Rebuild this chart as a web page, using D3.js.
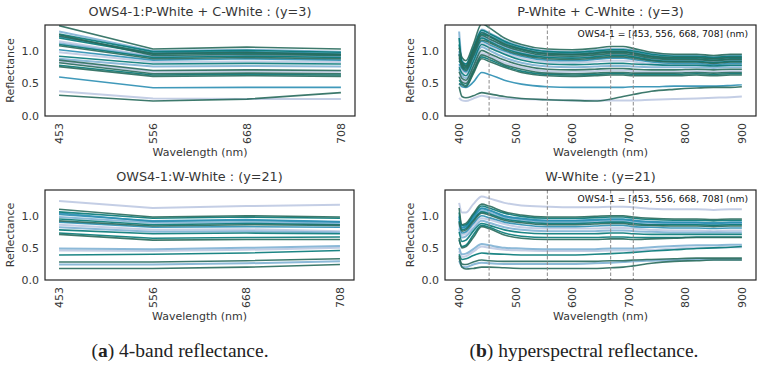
<!DOCTYPE html>
<html>
<head>
<meta charset="utf-8">
<script src="https://cdn.jsdelivr.net/npm/d3@7"></script>
<style>
  body { margin: 0; background: #fff; }
  text { font-family: "DejaVu Sans", sans-serif; fill: #363636; }
  .caption { font-family: "Liberation Serif", serif; fill: #222; }
</style>
</head>
<body>
<svg id="fig" width="761" height="366"></svg>
<script>
// ---- data ----
var bands = [453, 556, 668, 708];
var wavelengths = [400, 405, 412, 425, 440, 453, 480, 510, 556, 600, 640, 668, 690, 708, 740, 780, 820, 850, 880, 900];
var yTicks = [0.0, 0.5, 1.0];
var xTicksHyper = [400, 500, 600, 700, 800, 900];

// shade of each sample (0.3 = light lavender ... 0.95 = dark green)
var shadeY3 = [0.95, 0.45, 0.65, 0.8, 0.95, 0.3, 0.8, 0.95, 0.65, 0.3, 0.8, 0.45, 0.95, 0.3, 0.95, 0.8, 0.95, 0.65, 0.3, 0.95, 0.8, 0.95, 0.45];
var shadeY21 = [0.3, 0.95, 0.8, 0.65, 0.45, 0.8, 0.95, 0.65, 0.3, 0.45, 0.8, 0.95, 0.8, 0.45, 0.3, 0.8, 0.95, 0.45, 0.95, 0.65];

// 4-band reflectance, P-White + C-White (y=3)
var bandY3 = [
  [1.39, 1.03, 1.06, 1.03], [1.30, 1.00, 1.02, 0.99], [1.22, 0.97, 0.99, 0.96], [1.20, 0.95, 0.97, 0.94],
  [1.25, 0.93, 0.95, 0.93], [1.15, 0.92, 0.94, 0.92], [1.10, 0.90, 0.92, 0.90], [1.08, 0.88, 0.90, 0.88],
  [1.02, 0.86, 0.88, 0.86], [0.98, 0.83, 0.84, 0.83], [0.92, 0.80, 0.81, 0.80], [0.88, 0.76, 0.77, 0.76],
  [0.86, 0.70, 0.71, 0.70], [0.84, 0.68, 0.69, 0.68], [0.82, 0.65, 0.66, 0.65], [0.78, 0.63, 0.64, 0.63],
  [0.76, 0.61, 0.62, 0.61], [0.60, 0.435, 0.44, 0.44], [0.38, 0.27, 0.26, 0.26], [0.32, 0.23, 0.26, 0.36],
  [1.26, 0.99, 1.01, 0.98], [1.23, 0.96, 0.98, 0.95], [1.12, 0.91, 0.93, 0.91]
];

// 4-band reflectance, W-White (y=21)
var bandY21 = [
  [1.23, 1.12, 1.15, 1.17], [1.10, 0.98, 1.00, 0.98], [1.06, 0.96, 0.98, 0.96], [1.02, 0.92, 0.94, 0.91],
  [0.98, 0.89, 0.90, 0.88], [0.95, 0.86, 0.88, 0.86], [0.92, 0.84, 0.86, 0.85], [0.90, 0.82, 0.83, 0.82],
  [0.86, 0.78, 0.79, 0.76], [0.82, 0.75, 0.76, 0.74], [0.78, 0.72, 0.73, 0.72], [0.71, 0.62, 0.63, 0.63],
  [0.73, 0.65, 0.66, 0.67], [0.49, 0.48, 0.50, 0.53], [0.46, 0.45, 0.47, 0.50], [0.39, 0.40, 0.42, 0.46],
  [0.28, 0.28, 0.30, 0.33], [0.24, 0.24, 0.26, 0.29], [0.18, 0.18, 0.20, 0.24], [1.04, 0.91, 0.93, 0.90]
];

// hyperspectral reflectance at `wavelengths`, P-White + C-White (y=3)
var hyperY3 = [
  [1.05, 0.90, 0.85, 1.10, 1.42, 1.36, 1.20, 1.10, 1.03, 1.02, 1.04, 1.07, 1.07, 1.04, 0.98, 0.95, 0.95, 0.93, 0.95, 0.95],
  [1.30, 0.85, 0.80, 1.05, 1.33, 1.28, 1.16, 1.07, 1.00, 0.99, 1.01, 1.03, 1.03, 1.01, 0.96, 0.93, 0.93, 0.91, 0.93, 0.93],
  [0.95, 0.82, 0.78, 1.02, 1.29, 1.24, 1.13, 1.04, 0.97, 0.96, 0.98, 1.00, 1.00, 0.98, 0.93, 0.90, 0.90, 0.88, 0.90, 0.90],
  [1.20, 0.81, 0.76, 1.00, 1.26, 1.22, 1.10, 1.02, 0.95, 0.94, 0.96, 0.98, 0.98, 0.96, 0.91, 0.88, 0.88, 0.86, 0.88, 0.88],
  [0.90, 0.79, 0.74, 0.98, 1.24, 1.19, 1.08, 1.00, 0.93, 0.92, 0.94, 0.96, 0.96, 0.94, 0.89, 0.87, 0.87, 0.85, 0.87, 0.87],
  [0.88, 0.78, 0.74, 0.97, 1.22, 1.18, 1.07, 0.98, 0.92, 0.91, 0.93, 0.95, 0.95, 0.93, 0.88, 0.86, 0.86, 0.84, 0.86, 0.86],
  [0.85, 0.77, 0.72, 0.95, 1.20, 1.15, 1.04, 0.96, 0.90, 0.89, 0.91, 0.93, 0.93, 0.91, 0.86, 0.84, 0.84, 0.82, 0.84, 0.84],
  [0.95, 0.75, 0.70, 0.92, 1.17, 1.13, 1.02, 0.94, 0.88, 0.87, 0.89, 0.91, 0.91, 0.89, 0.85, 0.83, 0.83, 0.81, 0.83, 0.83],
  [0.80, 0.73, 0.68, 0.90, 1.15, 1.10, 1.00, 0.92, 0.86, 0.85, 0.87, 0.89, 0.89, 0.87, 0.83, 0.81, 0.81, 0.79, 0.81, 0.81],
  [0.78, 0.70, 0.66, 0.87, 1.12, 1.07, 0.97, 0.89, 0.83, 0.82, 0.84, 0.85, 0.85, 0.84, 0.80, 0.79, 0.79, 0.77, 0.79, 0.79],
  [0.75, 0.66, 0.62, 0.84, 1.10, 1.05, 0.95, 0.86, 0.80, 0.79, 0.80, 0.81, 0.81, 0.80, 0.79, 0.78, 0.78, 0.77, 0.78, 0.78],
  [0.72, 0.62, 0.58, 0.80, 1.06, 1.01, 0.90, 0.82, 0.76, 0.75, 0.76, 0.77, 0.77, 0.76, 0.75, 0.75, 0.75, 0.74, 0.75, 0.75],
  [0.68, 0.58, 0.55, 0.76, 1.01, 0.96, 0.86, 0.78, 0.72, 0.71, 0.72, 0.73, 0.73, 0.72, 0.71, 0.71, 0.72, 0.71, 0.72, 0.72],
  [0.62, 0.55, 0.52, 0.72, 0.97, 0.93, 0.82, 0.75, 0.69, 0.68, 0.69, 0.70, 0.70, 0.69, 0.68, 0.68, 0.69, 0.68, 0.69, 0.69],
  [0.60, 0.52, 0.50, 0.70, 0.94, 0.90, 0.79, 0.72, 0.66, 0.65, 0.66, 0.67, 0.67, 0.66, 0.66, 0.66, 0.67, 0.66, 0.67, 0.67],
  [0.55, 0.50, 0.47, 0.67, 0.91, 0.87, 0.77, 0.69, 0.64, 0.63, 0.64, 0.65, 0.65, 0.64, 0.64, 0.64, 0.65, 0.64, 0.65, 0.65],
  [0.50, 0.48, 0.45, 0.65, 0.88, 0.84, 0.75, 0.67, 0.62, 0.61, 0.62, 0.63, 0.63, 0.62, 0.62, 0.62, 0.63, 0.62, 0.63, 0.63],
  [0.50, 0.45, 0.44, 0.52, 0.67, 0.64, 0.55, 0.49, 0.45, 0.44, 0.44, 0.44, 0.44, 0.45, 0.45, 0.46, 0.46, 0.46, 0.47, 0.48],
  [0.28, 0.24, 0.23, 0.27, 0.31, 0.29, 0.27, 0.26, 0.25, 0.24, 0.24, 0.24, 0.24, 0.24, 0.25, 0.26, 0.27, 0.28, 0.29, 0.30],
  [0.45, 0.30, 0.28, 0.31, 0.36, 0.34, 0.30, 0.27, 0.25, 0.24, 0.23, 0.26, 0.30, 0.33, 0.38, 0.41, 0.43, 0.44, 0.44, 0.45],
  [1.10, 0.84, 0.80, 1.04, 1.32, 1.27, 1.15, 1.06, 0.99, 0.98, 1.00, 1.02, 1.02, 1.00, 0.95, 0.92, 0.92, 0.90, 0.92, 0.92],
  [0.85, 0.82, 0.77, 1.01, 1.28, 1.23, 1.11, 1.03, 0.96, 0.95, 0.97, 0.99, 0.99, 0.97, 0.92, 0.90, 0.90, 0.88, 0.90, 0.90],
  [1.00, 0.77, 0.73, 0.96, 1.21, 1.17, 1.06, 0.97, 0.91, 0.90, 0.92, 0.94, 0.94, 0.92, 0.87, 0.85, 0.85, 0.83, 0.85, 0.85]
];

// hyperspectral reflectance at `wavelengths`, W-White (y=21)
var hyperY21 = [
  [1.20, 1.05, 1.05, 1.18, 1.30, 1.27, 1.20, 1.16, 1.14, 1.13, 1.13, 1.14, 1.14, 1.13, 1.11, 1.10, 1.10, 1.09, 1.10, 1.10],
  [1.12, 0.86, 0.88, 1.03, 1.18, 1.15, 1.06, 1.01, 0.98, 0.98, 0.99, 1.00, 1.00, 0.98, 0.96, 0.95, 0.95, 0.94, 0.95, 0.95],
  [1.05, 0.85, 0.86, 1.01, 1.15, 1.12, 1.04, 0.99, 0.96, 0.96, 0.97, 0.98, 0.98, 0.96, 0.94, 0.93, 0.93, 0.92, 0.93, 0.93],
  [0.98, 0.82, 0.84, 0.98, 1.12, 1.09, 1.00, 0.96, 0.93, 0.93, 0.94, 0.95, 0.95, 0.93, 0.91, 0.90, 0.90, 0.89, 0.90, 0.90],
  [0.95, 0.80, 0.82, 0.95, 1.08, 1.05, 0.97, 0.93, 0.90, 0.90, 0.91, 0.92, 0.92, 0.90, 0.88, 0.87, 0.87, 0.86, 0.87, 0.87],
  [0.92, 0.78, 0.80, 0.93, 1.06, 1.03, 0.95, 0.91, 0.88, 0.88, 0.89, 0.90, 0.90, 0.88, 0.86, 0.86, 0.86, 0.85, 0.86, 0.86],
  [0.90, 0.76, 0.78, 0.91, 1.04, 1.01, 0.93, 0.89, 0.86, 0.86, 0.87, 0.88, 0.88, 0.86, 0.85, 0.84, 0.84, 0.83, 0.84, 0.84],
  [0.88, 0.73, 0.75, 0.88, 1.00, 0.97, 0.90, 0.86, 0.83, 0.83, 0.84, 0.85, 0.85, 0.83, 0.82, 0.81, 0.81, 0.80, 0.81, 0.81],
  [0.85, 0.70, 0.72, 0.85, 0.96, 0.94, 0.87, 0.82, 0.80, 0.80, 0.80, 0.81, 0.81, 0.80, 0.78, 0.77, 0.77, 0.76, 0.77, 0.77],
  [0.80, 0.66, 0.68, 0.80, 0.92, 0.89, 0.82, 0.78, 0.76, 0.76, 0.76, 0.77, 0.77, 0.76, 0.75, 0.74, 0.74, 0.74, 0.74, 0.74],
  [0.75, 0.60, 0.62, 0.76, 0.88, 0.85, 0.78, 0.74, 0.72, 0.72, 0.72, 0.73, 0.73, 0.72, 0.71, 0.71, 0.71, 0.71, 0.71, 0.71],
  [0.65, 0.50, 0.52, 0.66, 0.83, 0.80, 0.70, 0.65, 0.63, 0.63, 0.63, 0.64, 0.64, 0.63, 0.64, 0.65, 0.66, 0.66, 0.66, 0.66],
  [0.62, 0.52, 0.54, 0.70, 0.85, 0.82, 0.73, 0.68, 0.66, 0.66, 0.66, 0.67, 0.67, 0.66, 0.66, 0.66, 0.67, 0.67, 0.67, 0.67],
  [0.50, 0.40, 0.41, 0.48, 0.56, 0.54, 0.50, 0.49, 0.48, 0.48, 0.48, 0.49, 0.49, 0.49, 0.51, 0.53, 0.54, 0.54, 0.55, 0.55],
  [0.45, 0.36, 0.37, 0.44, 0.52, 0.50, 0.47, 0.46, 0.45, 0.45, 0.45, 0.46, 0.46, 0.46, 0.47, 0.49, 0.50, 0.50, 0.51, 0.51],
  [0.40, 0.32, 0.33, 0.38, 0.42, 0.41, 0.40, 0.39, 0.39, 0.39, 0.40, 0.41, 0.42, 0.43, 0.45, 0.47, 0.49, 0.50, 0.51, 0.52],
  [0.38, 0.25, 0.24, 0.28, 0.31, 0.30, 0.29, 0.29, 0.29, 0.29, 0.29, 0.30, 0.30, 0.31, 0.32, 0.33, 0.34, 0.34, 0.34, 0.34],
  [0.30, 0.21, 0.20, 0.24, 0.27, 0.26, 0.25, 0.25, 0.25, 0.25, 0.26, 0.27, 0.28, 0.29, 0.30, 0.31, 0.32, 0.32, 0.32, 0.32],
  [0.35, 0.20, 0.17, 0.18, 0.20, 0.20, 0.19, 0.18, 0.18, 0.18, 0.18, 0.19, 0.20, 0.22, 0.26, 0.29, 0.30, 0.31, 0.31, 0.31],
  [1.00, 0.81, 0.83, 0.97, 1.11, 1.08, 0.99, 0.95, 0.92, 0.92, 0.93, 0.94, 0.94, 0.92, 0.90, 0.89, 0.89, 0.88, 0.89, 0.89]
];

// ---- drawing ----
var svg = d3.select("#fig");
var color = function(s) {
	// PuBuGn, dark end slightly muted like the reference
	return s > 0.9 ? "#286a5c" : d3.interpolatePuBuGn(s);
};

function panel(o) {
	var g = svg.append("g");
	var y = d3.scaleLinear().domain([0, 1.4]).range([o.bottom, o.top]);
	var x;
	if (o.hyper) {
		x = d3.scaleLinear().domain([375, 925]).range([o.left, o.right]);
	} else {
		x = d3.scalePoint().domain(bands).range([o.left, o.right]).padding(0.15);
	}

	var clipId = "clip" + o.id;
	g.append("clipPath").attr("id", clipId)
		.append("rect")
		.attr("x", o.left).attr("y", o.top)
		.attr("width", o.right - o.left).attr("height", o.bottom - o.top);

	var plot = g.append("g").attr("clip-path", "url(#" + clipId + ")");

	var line = d3.line()
		.x(function(d) { return x(d[0]); })
		.y(function(d) { return y(d[1]); });
	if (o.hyper) line.curve(d3.curveMonotoneX);

	var xs = o.hyper ? wavelengths : bands;
	// light samples first, dark on top
	var order = d3.range(o.data.length).sort(function(a, b) { return o.shade[a] - o.shade[b]; });
	order.forEach(function(i) {
		plot.append("path")
			.attr("d", line(o.data[i].map(function(v, j) { return [xs[j], v]; })))
			.attr("fill", "none")
			.attr("stroke", color(o.shade[i]))
			.attr("stroke-width", o.shade[i] < 0.5 ? 2 : 1.6)
			.attr("stroke-opacity", 0.9);
	});

	if (o.hyper) {
		bands.forEach(function(b) {
			g.append("line")
				.attr("x1", x(b)).attr("x2", x(b))
				.attr("y1", o.top).attr("y2", o.bottom)
				.attr("stroke", "#8a8a8a").attr("stroke-width", 1)
				.attr("stroke-dasharray", "3.5,2");
		});
		g.append("text")
			.attr("x", o.right - 8).attr("y", o.top + 12)
			.attr("text-anchor", "end")
			.style("font-size", "9.2px").style("fill", "#111")
			.text("OWS4-1 = [" + bands.join(", ") + "] (nm)");
	}

	g.append("rect")
		.attr("x", o.left).attr("y", o.top)
		.attr("width", o.right - o.left).attr("height", o.bottom - o.top)
		.attr("fill", "none").attr("stroke", "#262626").attr("stroke-width", 1.2);

	// y ticks
	yTicks.forEach(function(t) {
		g.append("text")
			.attr("x", o.left - 6).attr("y", y(t)).attr("dy", "0.36em")
			.attr("text-anchor", "end")
			.style("font-size", "11px")
			.text(d3.format(".1f")(t));
	});

	// x ticks, rotated
	var xt = o.hyper ? xTicksHyper : bands;
	xt.forEach(function(t) {
		g.append("text")
			.attr("transform", "translate(" + x(t) + "," + (o.bottom + 7) + ") rotate(-90)")
			.attr("dy", "0.36em")
			.attr("text-anchor", "end")
			.style("font-size", "11px")
			.text(t);
	});

	g.append("text")
		.attr("x", (o.left + o.right) / 2).attr("y", o.top - 9)
		.attr("text-anchor", "middle")
		.style("font-size", "12.8px")
		.text(o.title);

	g.append("text")
		.attr("transform", "translate(" + (o.left - 30) + "," + ((o.top + o.bottom) / 2) + ") rotate(-90)")
		.attr("dy", "-0.1em")
		.attr("text-anchor", "middle")
		.style("font-size", "11px")
		.text("Reflectance");

	g.append("text")
		.attr("x", (o.left + o.right) / 2).attr("y", o.xlabelY)
		.attr("text-anchor", "middle")
		.style("font-size", "11px")
		.text("Wavelength (nm)");
}

panel({id: 1, left: 45, right: 355, top: 25, bottom: 116, xlabelY: 156, hyper: false,
	data: bandY3, shade: shadeY3, title: "OWS4-1:P-White + C-White : (y=3)"});
panel({id: 2, left: 445, right: 756, top: 25, bottom: 116, xlabelY: 156, hyper: true,
	data: hyperY3, shade: shadeY3, title: "P-White + C-White : (y=3)"});
panel({id: 3, left: 45, right: 354, top: 190, bottom: 280, xlabelY: 320, hyper: false,
	data: bandY21, shade: shadeY21, title: "OWS4-1:W-White : (y=21)"});
panel({id: 4, left: 445, right: 756, top: 190, bottom: 280, xlabelY: 320, hyper: true,
	data: hyperY21, shade: shadeY21, title: "W-White : (y=21)"});

// captions
var captions = [{x: 180, label: "a", text: " 4-band reflectance."}, {x: 584, label: "b", text: " hyperspectral reflectance."}];
captions.forEach(function(c) {
	var t = svg.append("text").attr("class", "caption")
		.attr("x", c.x).attr("y", 357)
		.attr("text-anchor", "middle")
		.style("font-size", "19.5px");
	t.append("tspan").text("(");
	t.append("tspan").style("font-weight", "bold").text(c.label);
	t.append("tspan").text(")" + c.text);
});
</script>
</body>
</html>
